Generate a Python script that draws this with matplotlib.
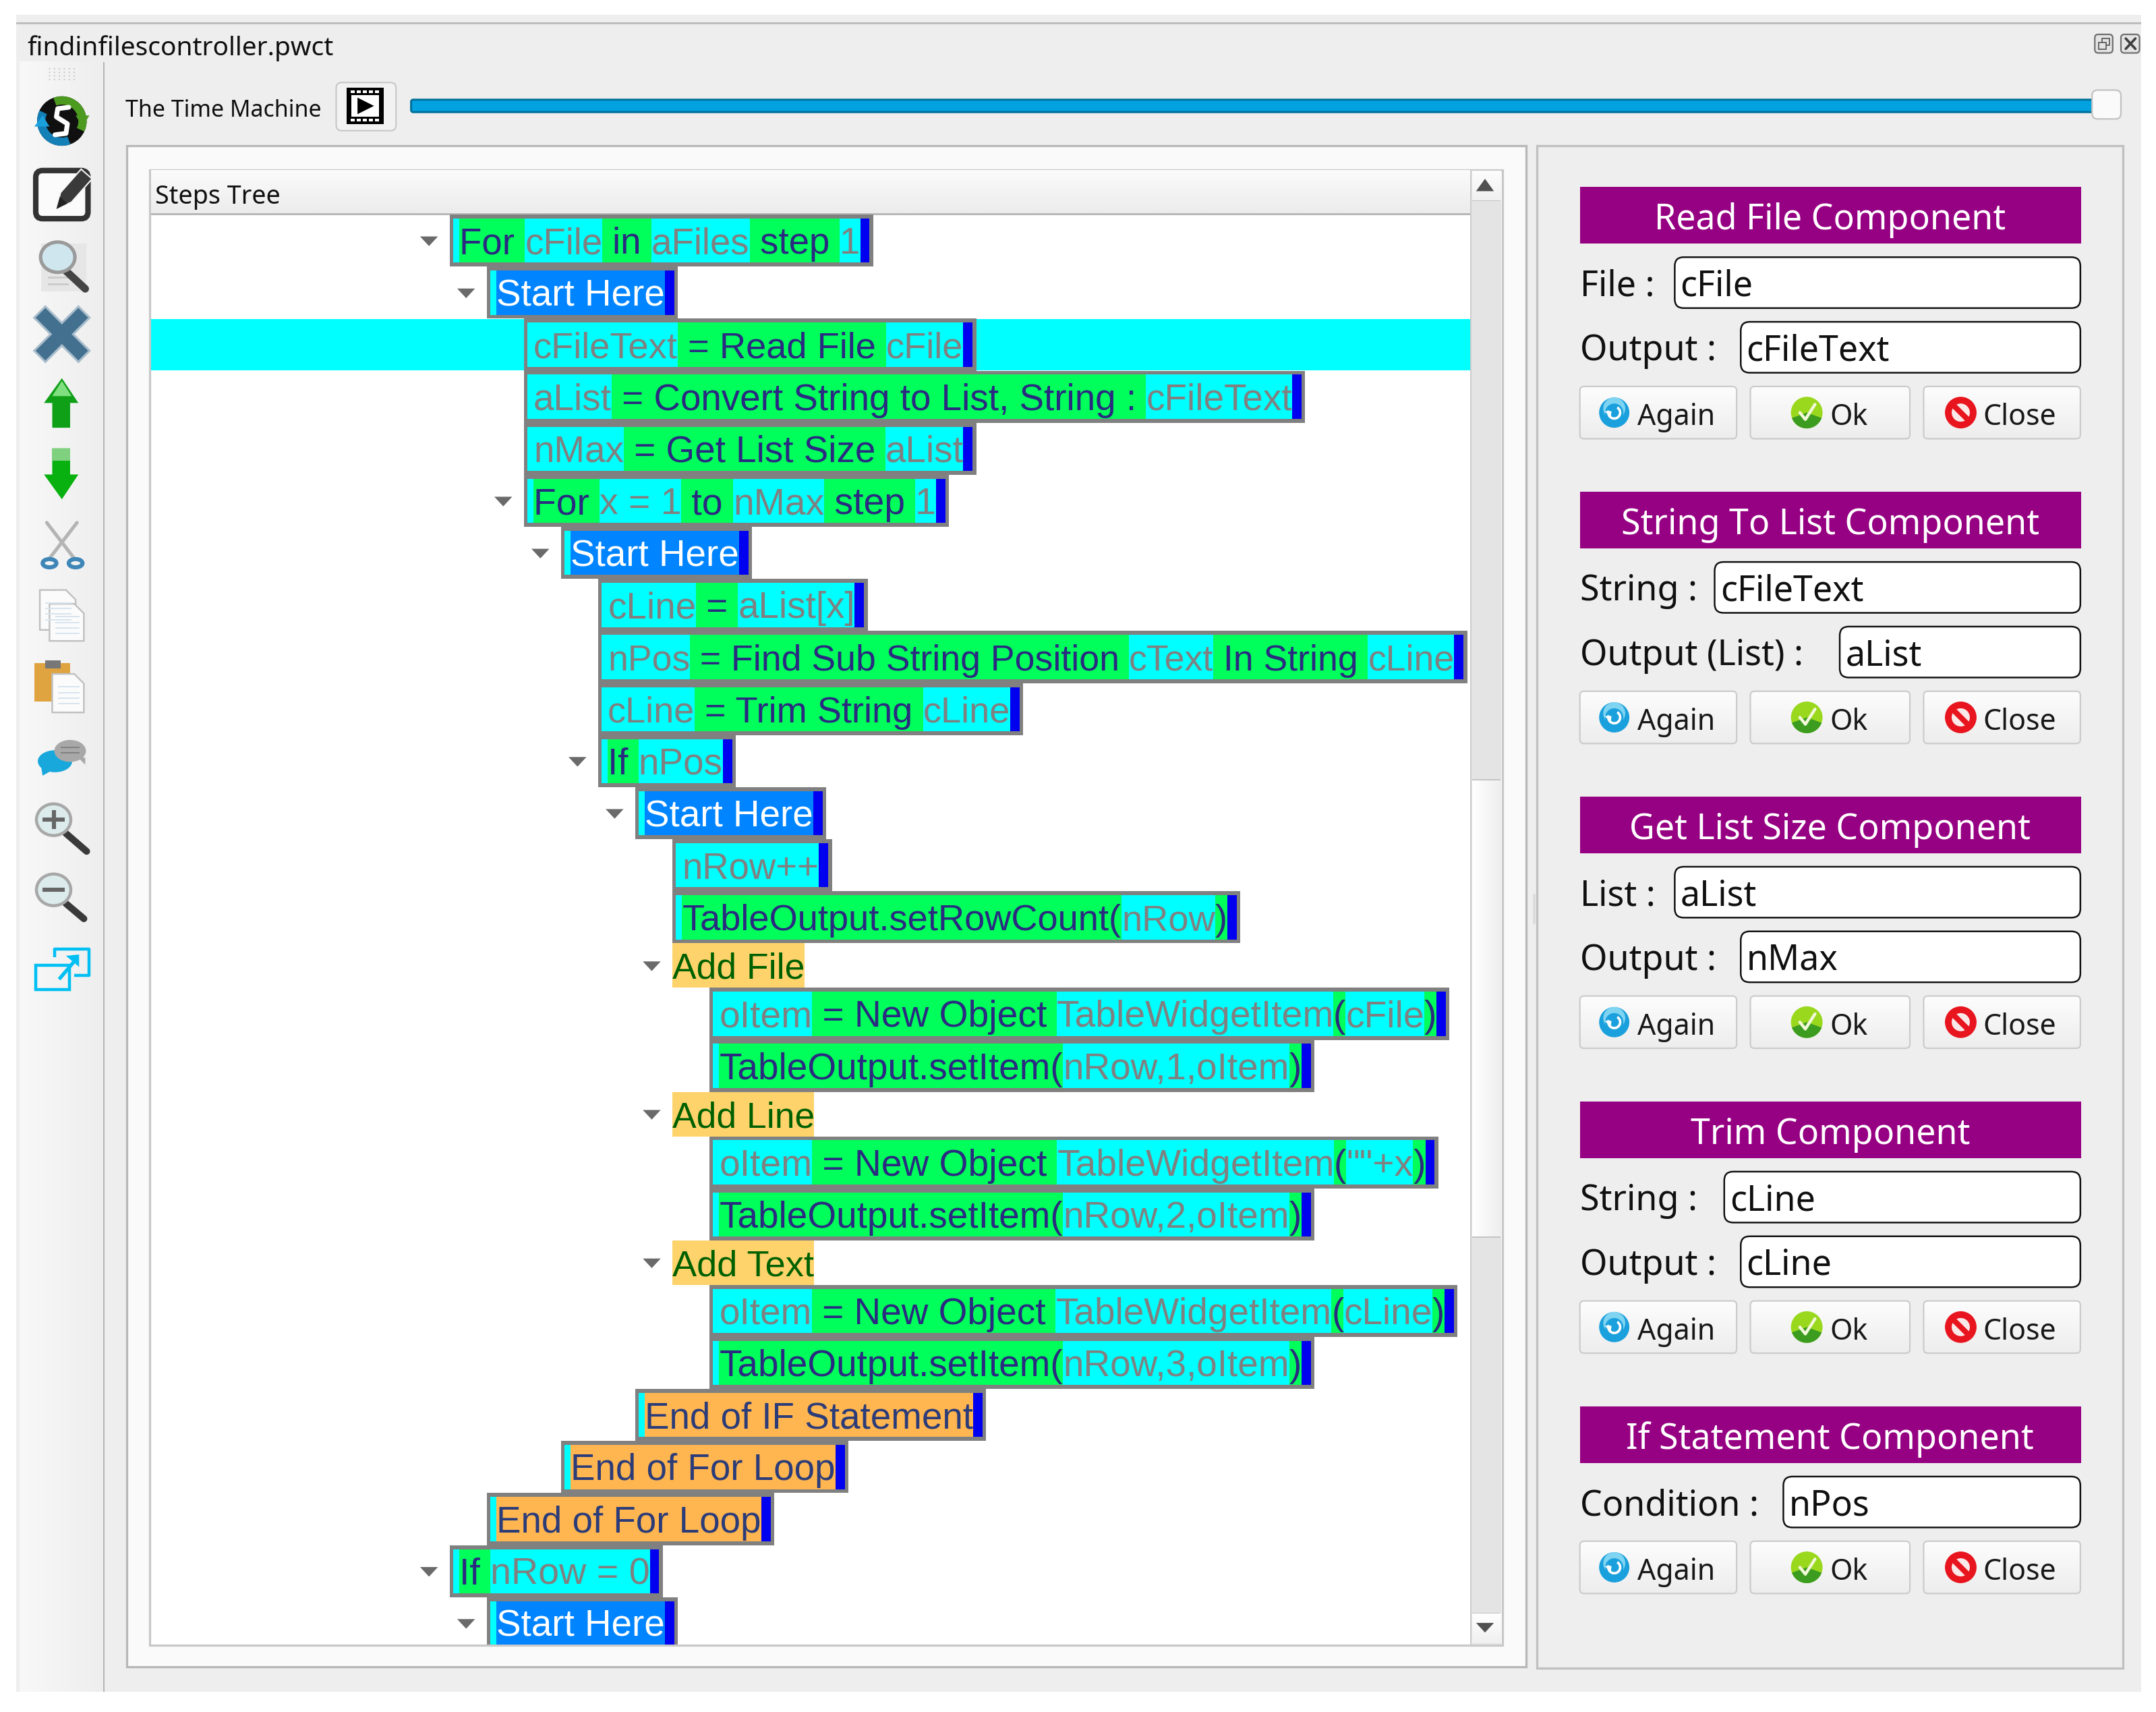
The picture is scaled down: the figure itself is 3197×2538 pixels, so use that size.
import numpy as np
import matplotlib
matplotlib.use("Agg")
import matplotlib.pyplot as plt
from matplotlib.colors import LinearSegmentedColormap
from matplotlib.font_manager import FontProperties
from matplotlib.patches import Rectangle, FancyBboxPatch, Polygon, Circle, Ellipse, Wedge

# tree rows: indent level, kind, expandable, (text, segment kind) pairs
ROW_LEVELS = [0, 1, 2, 2, 2, 2, 3, 4, 4, 4, 4, 5, 6, 6, 6, 7, 7, 6, 7, 7, 6, 7, 7, 5, 3, 1, 0, 1]
ROW_OPEN = [1, 1, 0, 0, 0, 1, 1, 0, 0, 0, 1, 1, 0, 0, 1, 0, 0, 1, 0, 0, 1, 0, 0, 0, 0, 0, 1, 1]
ROW_SEGMENTS = [
    [("For ", "k"), ("cFile", "v"), (" in ", "k"), ("aFiles", "v"), (" step ", "k"), ("1", "v")],
    [("Start Here", "s")],
    [("cFileText", "v"), (" = Read File ", "k"), ("cFile", "v")],
    [("aList", "v"), (" = Convert String to List, String : ", "k"), ("cFileText", "v")],
    [("nMax", "v"), (" = Get List Size ", "k"), ("aList", "v")],
    [("For ", "k"), ("x = 1", "v"), (" to ", "k"), ("nMax", "v"), (" step ", "k"), ("1", "v")],
    [("Start Here", "s")],
    [("cLine", "v"), (" = ", "k"), ("aList[x]", "v")],
    [("nPos", "v"), (" = Find Sub String Position ", "k"), ("cText", "v"), (" In String ", "k"), ("cLine", "v")],
    [("cLine", "v"), (" = Trim String ", "k"), ("cLine", "v")],
    [("If ", "k"), ("nPos", "v")],
    [("Start Here", "s")],
    [("nRow++", "v")],
    [("TableOutput.setRowCount(", "k"), ("nRow", "v"), (")", "k")],
    [("Add File", "c")],
    [("oItem", "v"), (" = New Object ", "k"), ("TableWidgetItem", "v"), ("(", "k"), ("cFile", "v"), (")", "k")],
    [("TableOutput.setItem(", "k"), ("nRow,1,oItem", "v"), (")", "k")],
    [("Add Line", "c")],
    [("oItem", "v"), (" = New Object ", "k"), ("TableWidgetItem", "v"), ("(", "k"), ('""+x', "v"), (")", "k")],
    [("TableOutput.setItem(", "k"), ("nRow,2,oItem", "v"), (")", "k")],
    [("Add Text", "c")],
    [("oItem", "v"), (" = New Object ", "k"), ("TableWidgetItem", "v"), ("(", "k"), ("cLine", "v"), (")", "k")],
    [("TableOutput.setItem(", "k"), ("nRow,3,oItem", "v"), (")", "k")],
    [("End of IF Statement", "e")],
    [("End of For Loop", "e")],
    [("End of For Loop", "e")],
    [("If ", "k"), ("nRow = 0", "v")],
    [("Start Here", "s")],
]
HIGHLIGHT_ROW = 2
# where each row ends, the text of a row is fitted to it
ROW_RIGHT = [635, 493, 710, 949, 710, 690, 547, 631, 1067, 744, 535, 601, 605, 902, 585, 1054, 956,
             592, 1046, 956, 592, 1060, 956, 717, 617, 563, 482, 493]

# right hand components
COMP_TITLES = ["Read File Component", "String To List Component", "Get List Size Component",
               "Trim Component", "If Statement Component"]
COMP_LABELS = [["File :", "Output :"], ["String :", "Output (List) :"], ["List :", "Output :"],
               ["String :", "Output :"], ["Condition :"]]
COMP_VALUES = [["cFile", "cFileText"], ["cFileText", "aList"], ["aList", "nMax"],
               ["cLine", "cLine"], ["nPos"]]
COMP_FIELD_X = [[1218, 1266], [1247, 1338], [1218, 1266], [1254, 1266], [1297]]
BUTTONS = ["Again", "Ok", "Close"]

TITLE = "findinfilescontroller.pwct"
SLIDER_LABEL = "The Time Machine"
HEADER = "Steps Tree"

TREE_FONT = "Liberation Sans"
UI_FONT = "Noto Sans"

GRAY = "#808080"
CYAN = "#00ffff"
GREEN = "#00ff5a"
BLUE = "#0000f0"
NAVY = "#2a2a80"
SEG_BG = {"k": GREEN, "v": CYAN, "s": "#0084ff", "e": "#ffb650", "c": "#ffd36b"}
SEG_FG = {"k": NAVY, "v": "#808080", "s": "white", "e": "#2c3c78", "c": "#006000"}

W, H = 1568.0, 2538 * 1568.0 / 3197
PT = 3197 / W * 72 / 100  # points per picture unit

fig = plt.figure(figsize=(31.97, 25.38), dpi=100, facecolor="white")
ax = fig.add_axes([0, 0, 1, 1])
ax.set_xlim(0, W)
ax.set_ylim(H, 0)
ax.axis("off")
renderer = fig.canvas.get_renderer()


def rect(x0, y0, x1, y1, color, z=1, **kw):
    p = Rectangle((x0, y0), x1 - x0, y1 - y0, facecolor=color, edgecolor="none", zorder=z, **kw)
    ax.add_patch(p)
    return p


def frame(x0, y0, x1, y1, fill, edge, z=1, lw=1.6):
    p = Rectangle((x0, y0), x1 - x0, y1 - y0, facecolor=fill, edgecolor=edge, linewidth=lw * PT, zorder=z)
    ax.add_patch(p)
    return p


def round_box(x0, y0, x1, y1, fill, edge, z=3, lw=1.0, r=4):
    p = FancyBboxPatch((x0 + r, y0 + r), x1 - x0 - 2 * r, y1 - y0 - 2 * r, boxstyle=f"round,pad={r},rounding_size={r}",
                       facecolor=fill, edgecolor=edge, linewidth=lw * PT, zorder=z)
    ax.add_patch(p)
    return p


def gradient(x0, y0, x1, y1, c0, c1, z=1, horizontal=False, clip=None):
    cmap = LinearSegmentedColormap.from_list("g", [c0, c1])
    v = np.linspace(0, 1, 64)
    v = v[None, :] if horizontal else v[:, None]
    im = ax.imshow(v, extent=(x0, x1, y1, y0), cmap=cmap, aspect="auto", zorder=z, vmin=0, vmax=1)
    if clip is not None:
        im.set_clip_path(clip)
    return im


def poly(pts, color, z=5, edge="none", lw=0):
    p = Polygon(pts, closed=True, facecolor=color, edgecolor=edge, linewidth=lw * PT, zorder=z)
    ax.add_patch(p)
    return p


def line(xs, ys, color, lw=1.0, z=5, **kw):
    ax.plot(xs, ys, color=color, linewidth=lw * PT, zorder=z, solid_capstyle=kw.pop("cap", "round"), **kw)


def circle(x, y, r, color, z=5, edge="none", lw=0):
    ax.add_patch(Circle((x, y), r, facecolor=color, edgecolor=edge, linewidth=lw * PT, zorder=z))


def text_width(s, prop):
    # advance width, bars keep the edge spaces counted
    a = renderer.get_text_width_height_descent("|" + s + "|", prop, False)[0]
    b = renderer.get_text_width_height_descent("||", prop, False)[0]
    return (a - b) * W / 3197


def ui_text(x, y, s, size, color="black", ha="left", z=6):
    ax.text(x, y, s, fontsize=size * PT, family=UI_FONT, color=color, ha=ha, va="baseline", zorder=z)


# window
rect(12, 11, 1557, 1230, "#eeeeee", z=0)
rect(12, 16, 1557, 17.5, "#bdbdbd", z=1)
gradient(14, 45, 75, 1230, "#f8f8f8", "#eeeeee", z=1, horizontal=True)
rect(75, 45, 76.2, 1230, "#b4b4b4", z=2)
for i in range(4):
    for j in range(6):
        circle(36 + j * 3.6, 50 + i * 2.6, 0.55, "#c8c8c8", z=2)

ui_text(20, 40, TITLE, 19.1, "#101010")
ui_text(91, 85, SLIDER_LABEL, 16.6, "#101010")

# top right dock buttons
for x0, x1 in [(1523.5, 1536.5), (1542.5, 1556)]:
    round_box(x0, 25, x1, 38.5, "#e4e4e4", "#707070", z=3, lw=1.1, r=2.5)
frame(1529, 28, 1534, 33, "none", "#606060", z=4, lw=0.9)
frame(1526.5, 31, 1531.5, 36, "#e4e4e4", "#606060", z=4, lw=0.9)
line([1546, 1553], [28, 35.5], "#404040", 1.8)
line([1553, 1546], [28, 35.5], "#404040", 1.8)

# time machine button and slider
round_box(244.5, 60, 288, 95, "#f2f2f2", "#c6c6c6", z=3)
rect(252, 64, 279, 90, "black", z=4)
rect(255.5, 69, 275.5, 85, "white", z=5)
for k in range(5):
    rect(255 + k * 4.4, 65.5, 258 + k * 4.4, 67.5, "white", z=5)
    rect(255 + k * 4.4, 86.5, 258 + k * 4.4, 88.5, "white", z=5)
poly([(260, 71), (260, 83), (272, 77)], "black", z=6)

round_box(299, 72.5, 1530, 81.5, "#00a2e0", "#00709a", z=3, lw=1.5, r=1.5)
round_box(1521.5, 65.5, 1542.5, 86.5, "#fafafa", "#c2c2c2", z=4, lw=1.1, r=4)

# panels
frame(92, 106, 1110, 1212, "#fafafa", "#b8b8b8", z=1)
frame(1118, 106, 1544, 1213, "#eeeeee", "#c0c0c0", z=1)
rect(1115, 650, 1117, 672, "#dcdcdc", z=2)

# tree widget
frame(109, 123.5, 1092.5, 1196, "white", "#c8c8c8", z=2)
gradient(110, 124, 1069, 155, "#fbfbfb", "#ececec", z=3)
rect(110, 155, 1069, 156.3, "#b8b8b8", z=3)
ui_text(113, 148, HEADER, 18.5, "#101010")

# scroll bar
rect(1070, 124, 1092, 1195.5, "#e4e4e4", z=3)
rect(1069, 124, 1070.2, 1195.5, "#cccccc", z=4)
gradient(1070.5, 124, 1091.5, 146, "#fdfdfd", "#f0f0f0", z=4)
gradient(1070.5, 567, 1091.5, 899.5, "#ffffff", "#eeeeee", z=4, horizontal=True)
gradient(1070.5, 1173, 1091.5, 1195, "#ffffff", "#f0f0f0", z=4)
for yy in [146, 567, 899.5, 1173]:
    rect(1070.5, yy - 0.4, 1091.5, yy + 0.4, "#c4c4c4", z=5)
poly([(1073.5, 139), (1086.5, 139), (1080, 130)], "#505050", z=6)
poly([(1073.5, 1180), (1086.5, 1180), (1080, 1187)], "#505050", z=6)

# tree rows
tree_size = 26.8 * PT
clip_box = Rectangle((110, 156), 959, 1039.5, transform=ax.transData)
y_top = 156.0
for i, segs in enumerate(ROW_SEGMENTS):
    is_label = segs[0][1] == "c"
    row_h = 32.3 if is_label else 37.85
    left = 327 + 27 * ROW_LEVELS[i]
    y0, y1 = y_top, y_top + row_h
    yc = (y0 + y1) / 2
    base = yc + 9.6
    if i == HIGHLIGHT_ROW:
        rect(110, y0 + 0.4, 1069, y1 - 0.2, CYAN, z=4)
    if ROW_OPEN[i]:
        ax_x = left - 15
        poly([(ax_x - 6.5, yc - 3), (ax_x + 6.5, yc - 3), (ax_x, yc + 4)], "#6a6a6a", z=6)

    # fit the row's text between its left and right edge
    plain = FontProperties(family=TREE_FONT, size=tree_size)
    total = sum(text_width(s, plain) for s, _ in segs)
    room = ROW_RIGHT[i] - left if is_label else ROW_RIGHT[i] - left - 7 - 6.8 - 2.6
    prop = FontProperties(family=TREE_FONT, size=tree_size * room / total)
    share = room / sum(text_width(s, prop) for s, _ in segs)

    if is_label:
        rect(left, y0, ROW_RIGHT[i], y1, SEG_BG["c"], z=5).set_clip_path(clip_box)
        ax.text(left, base, segs[0][0], fontproperties=prop, color=SEG_FG["c"], va="baseline", zorder=8)
    else:
        rect(left, y0, ROW_RIGHT[i], y1, GRAY, z=5).set_clip_path(clip_box)
        inner0, inner1 = y0 + 2.9, y1 - 2.9
        rect(left + 2.6, inner0, left + 7.2, inner1, CYAN, z=6).set_clip_path(clip_box)
        x = left + 7
        for s, kind in segs:
            w = text_width(s, prop) * share
            rect(x, inner0, x + w, inner1, SEG_BG[kind], z=6).set_clip_path(clip_box)
            t = ax.text(x, base, s, fontproperties=prop, color=SEG_FG[kind], va="baseline", zorder=8)
            t.set_clip_path(clip_box)
            x += w
        rect(x, inner0, x + 6.8, inner1, BLUE, z=7).set_clip_path(clip_box)
    y_top = y1


def again_icon(x, y):
    circle(x, y, 11, "#1aa0dc", z=7)
    ax.add_patch(Wedge((x, y - 3), 8, 0, 360, facecolor="#7fd4f2", edgecolor="none", zorder=7))
    circle(x, y, 6.6, "#1aa0dc", z=7)
    ax.add_patch(Wedge((x, y), 5.2, -60, 200, width=1.8, facecolor="white", edgecolor="none", zorder=8))
    poly([(x - 7, y - 1), (x - 2, y - 1), (x - 2.5, y + 3.5)], "white", z=8)


def ok_icon(x, y):
    circle(x, y, 11.5, "#9ad81e", z=7)
    ax.add_patch(Wedge((x, y), 11.5, 20, 160, facecolor="#3c9c20", edgecolor="none", zorder=7))
    line([x - 5, x - 1, x + 6], [y, y + 5, y - 6], "#f2f8d8", 2.2, z=8)


def close_icon(x, y):
    circle(x, y, 11.5, "#e8141e", z=7)
    circle(x, y, 6.6, "#fbe8e8", z=8)
    line([x - 6.5, x + 6.5], [y - 6.5, y + 6.5], "#e8141e", 4, z=9)


# component blocks
BLOCK_Y = [136, 357.6, 579.2, 800.9, 1022.6]
for title, labels, values, fields, by in zip(COMP_TITLES, COMP_LABELS, COMP_VALUES, COMP_FIELD_X, BLOCK_Y):
    rect(1149, by, 1513.5, by + 41, "#960082", z=3)
    ui_text(1331, by + 31, title, 25.5, "white", ha="center")
    y = by + 51
    for lab, val, fx in zip(labels, values, fields):
        ui_text(1149, y + 28, lab, 25.5, "#101010")
        round_box(fx, y, 1513, y + 37, "white", "#101010", z=4, lw=1.2, r=6.5)
        ui_text(fx + 4, y + 28, val, 25.5, "#101010")
        y += 47
    for name, bx0, bx1 in zip(BUTTONS, [1149, 1273, 1399], [1263, 1389, 1513]):
        p = round_box(bx0, y, bx1, y + 38, "none", "#cccccc", z=5, lw=1.1, r=3)
        gradient(bx0, y, bx1, y + 38, "#fdfdfd", "#ededed", z=4, clip=p)
        yt = y + 28
        if name == "Again":
            again_icon(bx0 + 25, y + 19)
            ui_text(bx0 + 42, yt, name, 21, "#181818")
        elif name == "Ok":
            ok_icon(bx0 + 41, y + 19)
            ui_text(bx0 + 58, yt, name, 21, "#181818")
        else:
            close_icon(bx0 + 27, y + 19)
            ui_text(bx0 + 43, yt, name, 21, "#181818")

# side bar icons
# logo
circle(45, 88, 18, "#101010", z=4)
ax.add_patch(Wedge((45, 88), 18, -110, 25, width=6, facecolor="#4c9a20", edgecolor="none", zorder=5))
ax.add_patch(Wedge((45, 88), 18, 70, 205, width=6, facecolor="#1380b8", edgecolor="none", zorder=5))
poly([(55, 84), (65, 84), (60, 92)], "#4c9a20", z=5)
poly([(25, 92), (36, 92), (31, 84)], "#1aa0dc", z=5)
line([50, 42, 41, 49, 48, 40], [78, 79, 85, 90, 97, 98], "white", 3.5, z=6)
# edit
round_box(26, 124, 64, 159, "#fbfbfb", "#333333", z=4, lw=4, r=5)
poly([(41, 152), (44, 140), (59, 123), (67, 130), (52, 147)], "#3a3a3a", z=5, edge="#f8f8f8", lw=1)
poly([(41, 152), (43.5, 143), (49, 148)], "#222222", z=6)
# find
rect(30, 177, 63, 212, "#e6e6e6", z=4)
for yy in (196, 201, 206):
    rect(35, yy, 50, yy + 1.5, "#cccccc", z=5)
line([48, 62], [197, 210], "#444444", 5.5, z=5)
ax.add_patch(Ellipse((42, 187), 25, 22, facecolor="#cfe6ef", edgecolor="#9a9a9a", linewidth=2.5 * PT, zorder=6))
# delete
for a, b, c, d in [(33, 57, 231, 255), (57, 33, 231, 255)]:
    line([a, b], [c, d], "#a8bccb", 13, z=4, cap="projecting")
for a, b, c, d in [(33, 57, 231, 255), (57, 33, 231, 255)]:
    line([a, b], [c, d], "#44708f", 10, z=5, cap="projecting")
# arrows
poly([(45, 275), (57, 293), (51, 293), (51, 311), (38, 311), (38, 293), (32, 293)], "#10a018", z=4)
poly([(45, 277), (52, 288), (38, 288)], "#80e080", z=5)
poly([(45, 363), (57, 345), (51, 345), (51, 326), (38, 326), (38, 345), (32, 345)], "#08b010", z=4)
rect(38, 326, 51, 335, "#7fd07f", z=5)
# cut
line([34, 54], [380, 406], "#b4b4b4", 2.5)
line([56, 36], [380, 406], "#b4b4b4", 2.5)
for cx in (36, 55):
    ax.add_patch(Ellipse((cx, 409.5), 10, 6, facecolor="none", edgecolor="#3f86b8", linewidth=3 * PT, zorder=6))
# copy
for x0, y0, x1, y1 in [(29, 429, 55, 458), (36, 439, 61, 466)]:
    poly([(x0, y0), (x1 - 7, y0), (x1, y0 + 7), (x1, y1), (x0, y1)], "#fbfbfb", z=5, edge="#c0c0c0", lw=1.2)
    for k in range(4):
        rect(x0 + 4, y0 + 9 + k * 4, x1 - 3, y0 + 10 + k * 4, "#d8e4ef", z=6)
# paste
rect(25, 482, 51, 510, "#dfa440", z=4)
rect(33, 480, 44, 486, "#777777", z=5)
poly([(38, 490), (54, 490), (61, 497), (61, 518), (38, 518)], "#fbfbfb", z=5, edge="#c0c0c0", lw=1.2)
for k in range(4):
    rect(42, 499 + k * 4, 58, 500 + k * 4, "#d8e4ef", z=6)
# chat
ax.add_patch(Ellipse((40, 553.5), 25, 16, facecolor="#19a8dc", edgecolor="none", zorder=4))
poly([(30, 558), (38, 560), (31, 564)], "#19a8dc", z=4)
ax.add_patch(Ellipse((51, 546), 23, 16, facecolor="#a8a8a8", edgecolor="none", zorder=5))
poly([(56, 550), (62, 551), (62, 556)], "#a8a8a8", z=5)
for yy in (543, 547):
    rect(44, yy, 58, yy + 1, "#808080", z=6)
# zoom in / out
for cy, x1, y1, plus in [(596, 63, 619, True), (647, 61, 668, False)]:
    line([48, x1], [cy + 10, y1], "#3a3a3a", 5, z=4)
    ax.add_patch(Ellipse((39, cy), 25, 23, facecolor="#dcecec", edgecolor="#a8a8a8", linewidth=2.2 * PT, zorder=5))
    line([31, 47], [cy, cy], "#666666", 3, z=6, cap="butt")
    if plus:
        line([39, 39], [cy - 7, cy + 7], "#666666", 3, z=6, cap="butt")
# restore windows
c = "#00bff3"
frame(26, 702, 50.5, 719.5, "none", c, z=5, lw=2.2)
line([39.5, 39.5, 64.5, 64.5, 54], [696, 690, 690, 709, 709], c, 2.2, z=5, cap="butt")
line([43, 54], [712, 699], c, 2.6, z=6, cap="butt")
poly([(48, 695), (57.5, 694), (57.5, 703)], c, z=6)

ax.set_xlim(0, W)
ax.set_ylim(H, 0)
fig.savefig("out.png", dpi=100, facecolor="white")
